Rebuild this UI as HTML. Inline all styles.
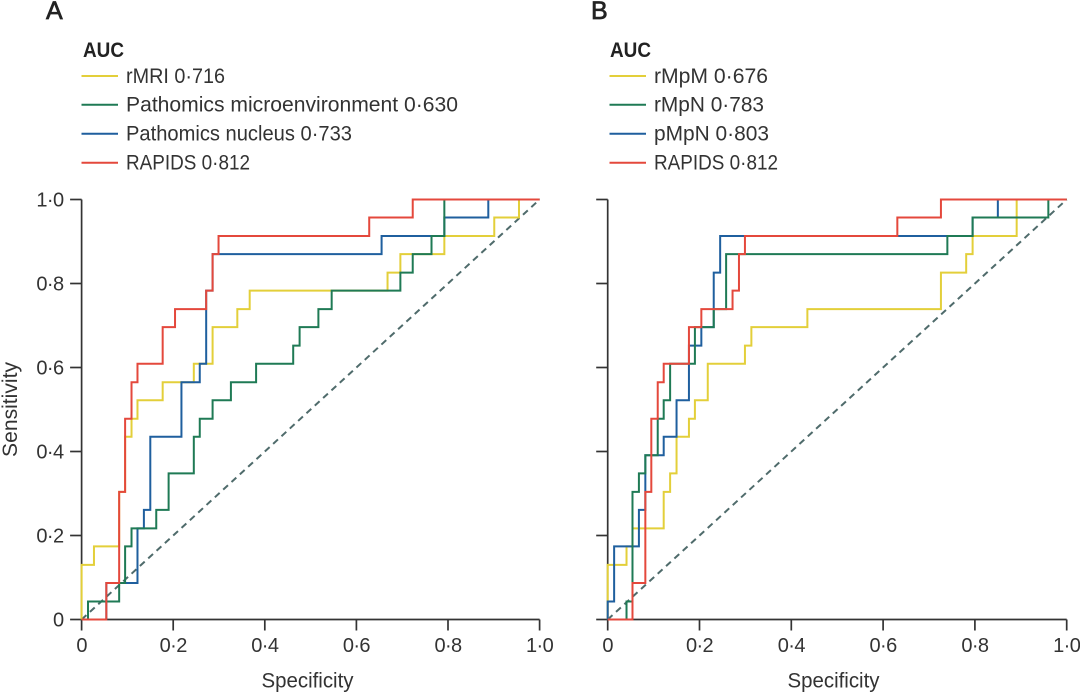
<!DOCTYPE html>
<html lang="en">
<head>
<meta charset="utf-8">
<title>ROC curves for RAPIDS and comparison models</title>
<style>
html,body{margin:0;padding:0;background:#fff;}
body{width:1080px;height:694px;overflow:hidden;}
svg{display:block;}
text{font-family:"Liberation Sans",sans-serif;fill:#333;font-size:21px;}
.bold{font-weight:bold;fill:#222;}
.tick{font-size:20px;letter-spacing:-0.6px;}
</style>
</head>
<body>
<svg id="chart" width="1080" height="694" viewBox="0 0 1080 694" xmlns="http://www.w3.org/2000/svg">
  <rect x="0" y="0" width="1080" height="694" fill="#fff"/>

  <text x="46" y="19" style="font-size:25px;fill:#222;stroke:#222;stroke-width:.7px">A</text>
  <text x="591" y="19" style="font-size:25px;fill:#222;stroke:#222;stroke-width:.7px">B</text>

  <g>
    <text class="bold" x="83" y="57" textLength="41" lengthAdjust="spacingAndGlyphs">AUC</text>
    <line x1="81.5" x2="118" y1="76" y2="76" stroke="#e3cf3a" stroke-width="2"/>
    <text x="126" y="83" textLength="99" lengthAdjust="spacingAndGlyphs">rMRI 0·716</text>
    <line x1="81.5" x2="118" y1="104.7" y2="104.7" stroke="#1f7a55" stroke-width="2"/>
    <text x="126" y="111.7" textLength="332" lengthAdjust="spacingAndGlyphs">Pathomics microenvironment 0·630</text>
    <line x1="81.5" x2="118" y1="133.7" y2="133.7" stroke="#1f5f9e" stroke-width="2"/>
    <text x="126" y="140.7" textLength="226" lengthAdjust="spacingAndGlyphs">Pathomics nucleus 0·733</text>
    <line x1="81.5" x2="118" y1="162.7" y2="162.7" stroke="#e4483c" stroke-width="2"/>
    <text x="126" y="169.7" textLength="124" lengthAdjust="spacingAndGlyphs">RAPIDS 0·812</text>
  </g>

  <g>
    <text class="bold" x="610" y="57" textLength="41" lengthAdjust="spacingAndGlyphs">AUC</text>
    <line x1="609.5" x2="646" y1="76" y2="76" stroke="#e3cf3a" stroke-width="2"/>
    <text x="654" y="83" textLength="114" lengthAdjust="spacingAndGlyphs">rMpM 0·676</text>
    <line x1="609.5" x2="646" y1="104.7" y2="104.7" stroke="#1f7a55" stroke-width="2"/>
    <text x="654" y="111.7" textLength="110" lengthAdjust="spacingAndGlyphs">rMpN 0·783</text>
    <line x1="609.5" x2="646" y1="133.7" y2="133.7" stroke="#1f5f9e" stroke-width="2"/>
    <text x="654" y="140.7" textLength="115" lengthAdjust="spacingAndGlyphs">pMpN 0·803</text>
    <line x1="609.5" x2="646" y1="162.7" y2="162.7" stroke="#e4483c" stroke-width="2"/>
    <text x="654" y="169.7" textLength="124" lengthAdjust="spacingAndGlyphs">RAPIDS 0·812</text>
  </g>

  <text transform="translate(17,409.5) rotate(-90)" text-anchor="middle" textLength="95" lengthAdjust="spacingAndGlyphs">Sensitivity</text>
  <text x="307.5" y="687.5" text-anchor="middle" textLength="92" lengthAdjust="spacingAndGlyphs">Specificity</text>
  <text x="833.5" y="687.5" text-anchor="middle" textLength="92" lengthAdjust="spacingAndGlyphs">Specificity</text>
</svg>
<script>
// Tick values and labels
const tickValues = [0, 0.2, 0.4, 0.6, 0.8, 1];
const tickLabels = ["0", "0·2", "0·4", "0·6", "0·8", "1·0"];

// Panel A: specificity where each step rises, and sensitivity after the rise
const aYellowSpec = [0,.027,.082,.095,.109,.122,.177,.245,.286,.340,.367,.668,.696,.792,.901,.955,1];
const aYellowSens = [.130,.174,.304,.435,.478,.522,.565,.609,.696,.739,.783,.826,.870,.913,.957,1,1];
const aBlueSpec = [.054,.122,.136,.150,.218,.258,.272,.286,.655,.792,.888,1];
const aBlueSens = [.087,.217,.261,.435,.565,.609,.783,.870,.913,.957,1,1];
const aGreenSpec = [.014,.082,.095,.109,.163,.190,.245,.258,.286,.326,.381,.462,.476,.517,.546,.696,.723,.764,.792,1];
const aGreenSens = [.043,.087,.174,.217,.261,.348,.435,.478,.522,.565,.609,.652,.696,.739,.783,.826,.870,.913,1,1];
const aRedSpec = [.054,.082,.095,.109,.122,.177,.204,.272,.286,.299,.628,.723,1];
const aRedSens = [.087,.304,.478,.565,.609,.696,.739,.783,.870,.913,.957,1,1];

// Panel B
const bYellowSpec = [0,.041,.054,.122,.136,.150,.177,.190,.218,.299,.313,.435,.726,.781,.795,.891,1];
const bYellowSens = [.130,.174,.217,.304,.348,.435,.478,.522,.609,.652,.696,.739,.826,.870,.913,1,1];
const bBlueSpec = [0,.014,.068,.082,.122,.150,.177,.204,.231,.245,.795,.850,1];
const bBlueSens = [.043,.174,.261,.391,.435,.522,.652,.696,.826,.913,.957,1,1];
const bGreenSpec = [.041,.054,.068,.082,.109,.122,.136,.190,.231,.258,.740,.795,.960,1];
const bGreenSens = [.043,.304,.348,.391,.478,.522,.609,.696,.739,.870,.913,.957,1,1];
const bRedSpec = [.054,.082,.095,.109,.122,.177,.204,.272,.286,.299,.631,.726,1];
const bRedSens = [.087,.304,.478,.565,.609,.696,.739,.783,.870,.913,.957,1,1];

const NS = "http://www.w3.org/2000/svg";
const svg = document.getElementById("chart");
const yTop = 199.5, yBottom = 619.5;
function yScale(v){ return yBottom - v * (yBottom - yTop); }
function makeXScale(x0, w){ return function(v){ return x0 + v * w; }; }

function stepPath(xs, ys, xScale){
  let d = "M" + xScale(0).toFixed(2) + " " + yScale(0).toFixed(2);
  for (let i = 0; i < xs.length; i++){
    d += "H" + xScale(xs[i]).toFixed(2) + "V" + yScale(ys[i]).toFixed(2);
  }
  return d;
}

function drawPanel(id, x0, w, showYLabels, series){
  const xScale = makeXScale(x0, w);
  const g = document.createElementNS(NS, "g");
  
  
  svg.appendChild(g);

  const axis = document.createElementNS(NS, "path");
  axis.setAttribute("d", "M" + xScale(0) + " " + yScale(1) + "V" + yScale(0) + "H" + xScale(1));
  axis.setAttribute("fill", "none");
  axis.setAttribute("stroke", "#333");
  axis.setAttribute("stroke-width", "1.7");
  
  
  g.appendChild(axis);

  tickValues.forEach(function(v, i){
    const xt = document.createElementNS(NS, "line");
    xt.setAttribute("x1", xScale(v));
    xt.setAttribute("x2", xScale(v));
    xt.setAttribute("y1", yBottom);
    xt.setAttribute("y2", yBottom + 11);
    xt.setAttribute("stroke", "#333");
    xt.setAttribute("stroke-width", "1.7");
    
    
    g.appendChild(xt);

    const xl = document.createElementNS(NS, "text");
    xl.setAttribute("class", "tick");
    xl.setAttribute("x", xScale(v));
    xl.setAttribute("y", 652);
    xl.setAttribute("text-anchor", "middle");
    xl.textContent = tickLabels[i];
    
    
    g.appendChild(xl);

    const yt = document.createElementNS(NS, "line");
    yt.setAttribute("x1", x0 - 11.5);
    yt.setAttribute("x2", x0);
    yt.setAttribute("y1", yScale(v));
    yt.setAttribute("y2", yScale(v));
    yt.setAttribute("stroke", "#333");
    yt.setAttribute("stroke-width", "1.7");
    
    
    g.appendChild(yt);

    if (showYLabels){
      const yl = document.createElementNS(NS, "text");
      yl.setAttribute("class", "tick");
      yl.setAttribute("x", 63.5);
      yl.setAttribute("y", yScale(v) + 7);
      yl.setAttribute("text-anchor", "end");
      yl.textContent = tickLabels[i];
      
      
      g.appendChild(yl);
    }
  });

  const diag = document.createElementNS(NS, "line");
  diag.setAttribute("x1", xScale(0));
  diag.setAttribute("y1", yScale(0));
  diag.setAttribute("x2", xScale(1));
  diag.setAttribute("y2", yScale(1));
  diag.setAttribute("stroke", "#4f6b6b");
  diag.setAttribute("stroke-width", "2");
  diag.setAttribute("stroke-dasharray", "6.5 4.8");
  
  
  g.appendChild(diag);

  series.forEach(function(s){
    const p = document.createElementNS(NS, "path");
    p.setAttribute("d", stepPath(s.spec, s.sens, xScale));
    p.setAttribute("fill", "none");
    p.setAttribute("stroke", s.color);
    p.setAttribute("stroke-width", "2");
    p.setAttribute("stroke-linejoin", "miter");
    
    
    g.appendChild(p);
  });
}

drawPanel("a", 81.6, 458, true, [
  {name:"rmri", color:"#e3cf3a", spec:aYellowSpec, sens:aYellowSens},
  {name:"nucleus", color:"#1f5f9e", spec:aBlueSpec, sens:aBlueSens},
  {name:"microenvironment", color:"#1f7a55", spec:aGreenSpec, sens:aGreenSens},
  {name:"rapids", color:"#e4483c", spec:aRedSpec, sens:aRedSens}
]);
drawPanel("b", 607.7, 459, false, [
  {name:"rmpm", color:"#e3cf3a", spec:bYellowSpec, sens:bYellowSens},
  {name:"pmpn", color:"#1f5f9e", spec:bBlueSpec, sens:bBlueSens},
  {name:"rmpn", color:"#1f7a55", spec:bGreenSpec, sens:bGreenSens},
  {name:"rapids", color:"#e4483c", spec:bRedSpec, sens:bRedSens}
]);
</script>
</body>
</html>
